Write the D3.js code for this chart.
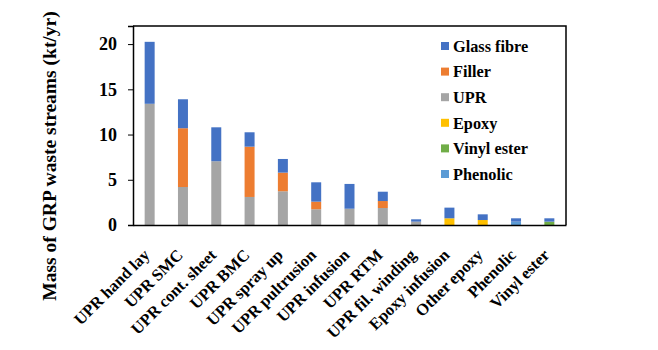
<!DOCTYPE html>
<html>
<head>
<meta charset="utf-8">
<script src="https://d3js.org/d3.v7.min.js"></script>
<style>
  body { margin: 0; background: #fff; }
  text { font-family: "Liberation Serif", "Times New Roman", serif; font-weight: bold; }
</style>
</head>
<body>
<div id="chart"></div>
<script>
// categories (processes)
var categories = ["UPR hand lay", "UPR SMC", "UPR cont. sheet", "UPR BMC", "UPR spray up",
    "UPR pultrusion", "UPR infusion", "UPR RTM", "UPR fil. winding", "Epoxy infusion",
    "Other epoxy", "Phenolic", "Vinyl ester"];

// series values (kt/yr), stacked bottom to top
var phenolic   = [0, 0, 0, 0, 0, 0, 0, 0, 0, 0, 0, 0.37, 0];
var vinylEster = [0, 0, 0, 0, 0, 0, 0, 0, 0, 0, 0, 0, 0.37];
var epoxy      = [0, 0, 0, 0, 0, 0, 0, 0, 0, 0.74, 0.55, 0, 0];
var upr        = [13.4, 4.2, 7.05, 3.1, 3.73, 1.74, 1.8, 1.88, 0.37, 0, 0, 0, 0];
var filler     = [0, 6.5, 0, 5.56, 2.06, 0.84, 0, 0.77, 0, 0, 0, 0, 0];
var glassFibre = [6.85, 3.2, 3.75, 1.59, 1.51, 2.14, 2.74, 1.03, 0.26, 1.18, 0.63, 0.37, 0.37];

var yTicks = [0, 5, 10, 15, 20];

var seriesNames = ["Phenolic", "Vinyl ester", "Epoxy", "UPR", "Filler", "Glass fibre"];
var seriesColors = ["#5B9BD5", "#70AD47", "#FFC000", "#A5A5A5", "#ED7D31", "#4472C4"];
var seriesValues = [phenolic, vinylEster, epoxy, upr, filler, glassFibre];

// build table for d3.stack
var table = categories.map(function(c, i) {
    var row = {cat: c};
    seriesNames.forEach(function(s, j) { row[s] = seriesValues[j][i]; });
    return row;
});

var margin = {top: 26, right: 92, bottom: 125, left: 133},
    width = 658 - margin.left - margin.right,
    height = 350 - margin.top - margin.bottom;

var svg = d3.select("#chart").append("svg")
    .attr("width", 658)
    .attr("height", 350)
    .append("g")
    .attr("transform", "translate(" + margin.left + "," + margin.top + ")");

var x = d3.scaleBand()
    .domain(categories)
    .range([0, width])
    .paddingInner(0.7)
    .paddingOuter(0.35);

var y = d3.scaleLinear()
    .domain([0, 22])
    .range([height, 0]);

var stacked = d3.stack().keys(seriesNames)(table);

// bars
svg.selectAll(".series")
    .data(stacked)
    .enter().append("g")
    .attr("class", "series")
    .style("fill", function(d, i) { return seriesColors[i]; })
    .selectAll("rect")
    .data(function(d) { return d; })
    .enter().append("rect")
    .attr("x", function(d) { return x(d.data.cat); })
    .attr("width", x.bandwidth())
    .attr("y", function(d) { return y(d[1]); })
    .attr("height", function(d) { return y(d[0]) - y(d[1]); });

// frame (top and right)
svg.append("path")
    .attr("d", "M0,0H" + width + "V" + height)
    .style("fill", "none")
    .style("stroke", "#000")
    .style("stroke-width", 1.5);

// y axis
var yAxis = svg.append("g")
    .call(d3.axisLeft(y).tickValues(yTicks).tickSize(5).tickPadding(11));
yAxis.select(".domain").style("stroke-width", 1.5);
yAxis.selectAll("text")
    .style("font-size", "18px")
    .style("font-family", "Liberation Serif")
    .style("font-weight", "bold")
    .attr("fill", "#000");

// x axis
var xAxis = svg.append("g")
    .attr("transform", "translate(0," + height + ")")
    .call(d3.axisBottom(x).tickSize(0).tickFormat(""));
xAxis.select(".domain").style("stroke-width", 1.5);

svg.selectAll(".xlabel")
    .data(categories)
    .enter().append("text")
    .attr("class", "xlabel")
    .attr("transform", function(d) {
        return "translate(" + (x(d) + x.bandwidth() / 2 + 1) + "," + (height + 31) + ") rotate(-45)";
    })
    .style("text-anchor", "end")
    .style("font-size", "16.5px")
    .text(function(d) { return d; });

// Y-Axis Label
svg.append("text")
    .attr("transform", "rotate(-90)")
    .attr("x", -130)
    .attr("y", -84)
    .attr("dy", "0.35em")
    .style("text-anchor", "middle")
    .style("font-size", "19.5px")
    .text("Mass of GRP waste streams (kt/yr)");

// legend
var legendNames = seriesNames.slice().reverse();
var legendColors = seriesColors.slice().reverse();
var legend = svg.selectAll(".legend")
    .data(legendNames)
    .enter().append("g")
    .attr("class", "legend")
    .attr("transform", function(d, i) { return "translate(308," + (20 + i * 25.6) + ")"; });

legend.append("rect")
    .attr("x", 0)
    .attr("y", -4)
    .attr("width", 8)
    .attr("height", 8)
    .style("fill", function(d, i) { return legendColors[i]; });

legend.append("text")
    .attr("x", 12)
    .attr("y", 0)
    .attr("dy", "0.35em")
    .style("font-size", "16.3px")
    .text(function(d) { return d; });
</script>
</body>
</html>
